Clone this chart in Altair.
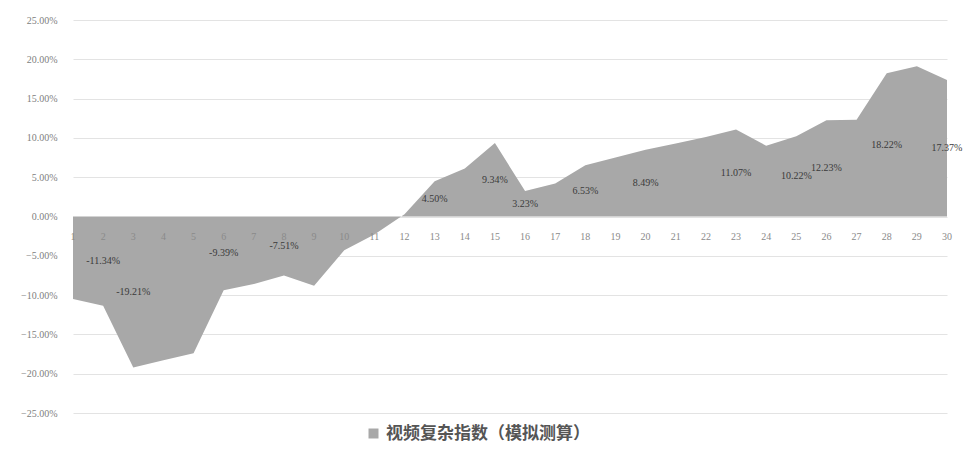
import altair as alt
import pandas as pd

periods = list(range(1, 31))
values = [-10.5, -11.34, -19.21, -18.3, -17.4, -9.39, -8.6, -7.51, -8.8, -4.3,
          -2.3, 0.3, 4.50, 6.1, 9.34, 3.23, 4.2, 6.53, 7.5, 8.49,
          9.3, 10.1, 11.07, 9.0, 10.22, 12.23, 12.3, 18.22, 19.1, 17.37]
label_periods = [2, 3, 6, 8, 13, 15, 16, 18, 20, 23, 25, 26, 28, 30]
series_name = "视频复杂指数（模拟测算）"
y_ticks = [-0.25, -0.20, -0.15, -0.10, -0.05, 0.0, 0.05, 0.10, 0.15, 0.20, 0.25]

df = pd.DataFrame({
    "period": periods,
    "value": [v / 100 for v in values],
    "series": series_name,
})
df["half"] = df["value"] / 2
df["label"] = [f"{v:.2f}%" for v in values]
df["zero"] = 0.0
lab_df = df[df["period"].isin(label_periods)]

xs = alt.Scale(domain=[1, 30], nice=False)
ys = alt.Scale(domain=[-0.25, 0.25], nice=False)


def y_axis():
    return alt.Axis(
        values=y_ticks, format=".2%", title=None, domain=False, ticks=False,
        labelOverlap=False, tickCount=11,
        labelFont="Liberation Serif", labelFontSize=10, labelColor="#808080",
        labelPadding=16, grid=True, gridColor="#e3e3e3", gridWidth=1)


area = alt.Chart(df).mark_area(opacity=1).encode(
    x=alt.X("period:Q", scale=xs, axis=None),
    y=alt.Y("value:Q", scale=ys, axis=y_axis()),
    color=alt.Color("series:N", scale=alt.Scale(range=["#a8a8a8"]),
                    legend=alt.Legend(orient="none", legendX=292, legendY=405,
                                      title=None, symbolType="square",
                                      symbolSize=100, symbolStrokeWidth=0,
                                      labelLimit=500, labelOffset=4,
                                      labelFont="Noto Sans CJK SC", labelFontSize=17,
                                      labelFontWeight="bold", labelColor="#555555")),
)

xlabels = alt.Chart(df).mark_text(
    dy=20, font="Liberation Serif", fontSize=10, color="#8a8a8a"
).encode(
    x=alt.X("period:Q", scale=xs, axis=None),
    y=alt.Y("zero:Q", scale=ys, axis=y_axis()),
    text=alt.Text("period:Q"),
)

dlabels = alt.Chart(lab_df).mark_text(
    font="Liberation Serif", fontSize=10, color="#3a3a3a"
).encode(
    x=alt.X("period:Q", scale=xs, axis=None),
    y=alt.Y("half:Q", scale=ys, axis=y_axis()),
    text="label:N",
)

chart = alt.layer(area, xlabels, dlabels).properties(
    width=874, height=393,
    background="white",
    autosize=alt.AutoSizeParams(type="none"),
    padding={"left": 65, "top": 12, "right": 18, "bottom": 34},
).configure_view(stroke=None)

chart.save("out.html", embed_options={"renderer": "svg", "actions": False})
